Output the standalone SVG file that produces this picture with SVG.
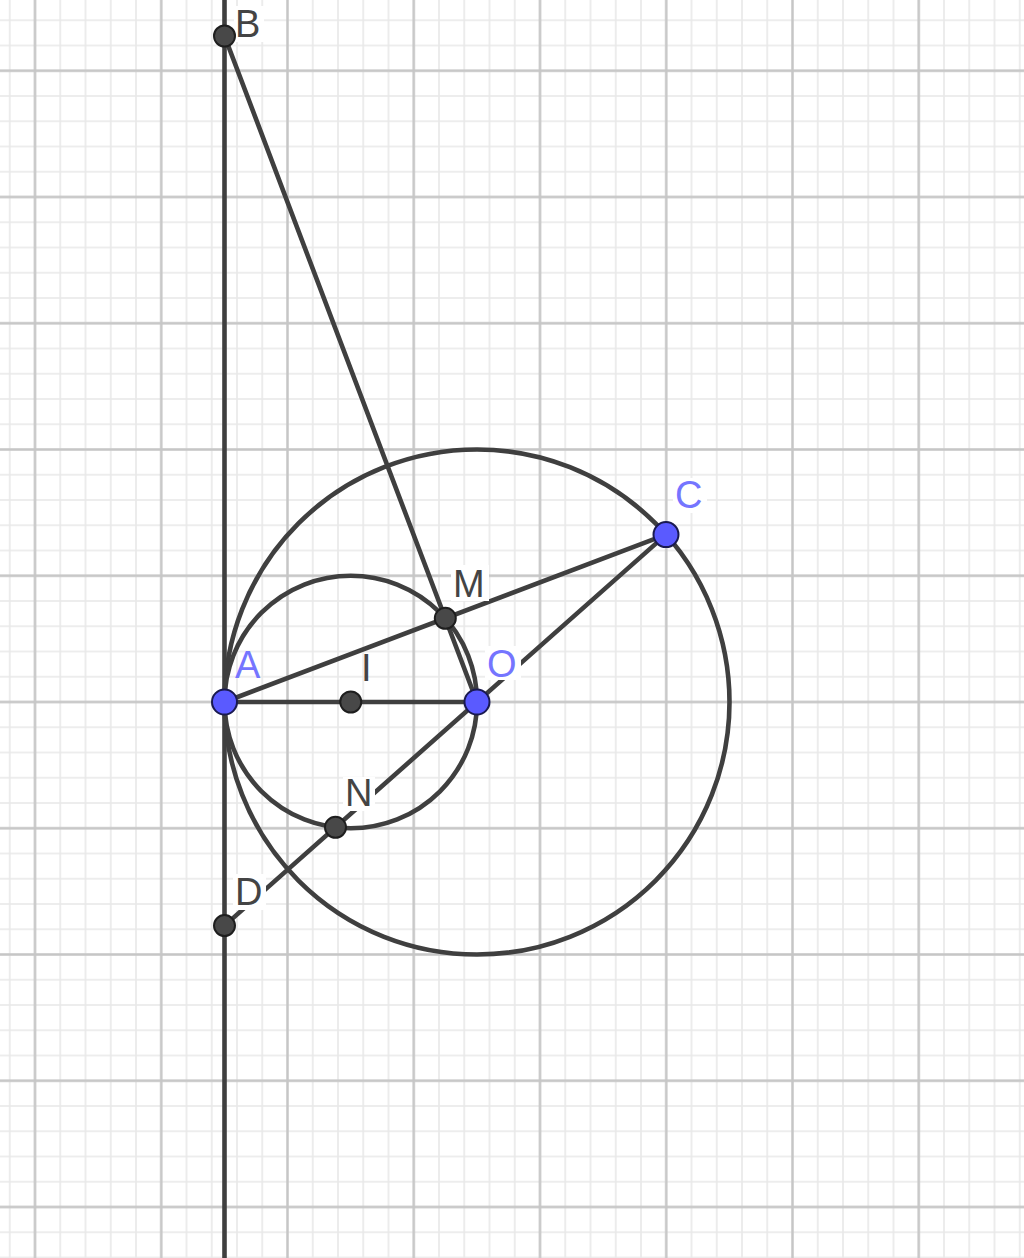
<svg xmlns="http://www.w3.org/2000/svg" width="1024" height="1258" viewBox="0 0 1024 1258">
<defs>
<pattern id="minor" patternUnits="userSpaceOnUse" x="22.375" y="58.125" width="25.25" height="25.25">
<path d="M12.625 0V25.25M0 12.625H25.25" stroke="#e8e8e8" stroke-width="1.6" fill="none"/>
</pattern>
<pattern id="major" patternUnits="userSpaceOnUse" x="-28.125" y="7.625" width="126.25" height="126.25">
<path d="M63.125 0V126.25M0 63.125H126.25" stroke="#c6c6c6" stroke-width="2.4" fill="none"/>
</pattern>
<style>
.ln{stroke:#3f3f3f;stroke-width:4.6;fill:none;stroke-linecap:round}
.pd{fill:#484848;stroke:#1e1e1e;stroke-width:2}
.pb{fill:#5a5aff;stroke:#1a1a50;stroke-width:2}
.lb{font-family:"Liberation Sans",Arial,sans-serif;font-size:38px}
.ld{fill:#444444}
.lbb{fill:#7575ff}
.bg{fill:#ffffff}
</style>
</defs>
<rect width="1024" height="1258" fill="#ffffff"/>
<rect width="1024" height="1258" fill="url(#minor)"/>
<rect width="1024" height="1258" fill="url(#major)"/>
<g id="connectors">
<line class="ln" x1="224.5" y1="0" x2="224.5" y2="1258"/>
<circle class="ln" cx="477" cy="702" r="252.5"/>
<circle class="ln" cx="350.75" cy="702" r="126.25"/>
<line class="ln" x1="224.5" y1="36" x2="477" y2="702"/>
<line class="ln" x1="224.5" y1="702" x2="477" y2="702"/>
<line class="ln" x1="224.5" y1="702" x2="666" y2="534.6"/>
<line class="ln" x1="666" y1="534.6" x2="224.5" y2="925.6"/>
</g>
<g id="B"><rect class="bg" x="234" y="6" width="30" height="36"/><text class="lb ld" x="235" y="37">B</text><circle class="pd" cx="224.5" cy="36" r="10.5"/></g>
<g id="M"><rect class="bg" x="451" y="565" width="38" height="36"/><text class="lb ld" x="453" y="597">M</text><circle class="pd" cx="445.3" cy="618.3" r="10.5"/></g>
<g id="I"><text class="lb ld" x="361" y="681">I</text><circle class="pd" cx="350.75" cy="702" r="10.5"/></g>
<g id="N"><rect class="bg" x="343" y="777" width="32" height="34"/><text class="lb ld" x="345" y="806">N</text><circle class="pd" cx="335.5" cy="827.3" r="10.5"/></g>
<g id="D"><rect class="bg" x="233" y="874" width="33" height="36"/><text class="lb ld" x="235" y="905">D</text><circle class="pd" cx="224.5" cy="925.6" r="10.5"/></g>
<g id="C"><rect class="bg" x="673" y="478" width="34" height="35"/><text class="lb lbb" x="675" y="508">C</text><circle class="pb" cx="666" cy="534.6" r="12.5"/></g>
<g id="O"><rect class="bg" x="485" y="646" width="36" height="34"/><text class="lb lbb" x="487" y="677">O</text><circle class="pb" cx="477" cy="702" r="12.5"/></g>
<g id="A"><text class="lb lbb" x="235" y="678">A</text><circle class="pb" cx="224.5" cy="702" r="12.5"/></g>
</svg>
